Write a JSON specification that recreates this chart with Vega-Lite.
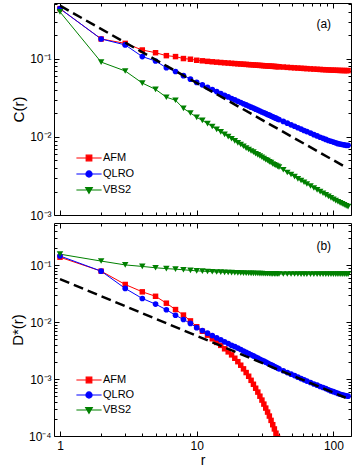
{
"$schema": "https://vega.github.io/schema/vega-lite/v6.json",
"padding": {"left": 9, "top": 2, "right": 2, "bottom": 2},
"bounds": "flush",
"config": {
  "font": "Liberation Sans",
  "view": {"stroke": "black", "strokeWidth": 1},
  "axis": {"domain": false, "grid": false, "tickColor": "black", "tickWidth": 1, "labelColor": "black", "titleColor": "black", "labelFontSize": 12, "titleFontSize": 15, "titleFontWeight": "normal", "labelOverlap": false, "labelFlush": false, "minExtent": 0},
  "legend": {"labelFontSize": 11, "labelColor": "black", "padding": 0}
},
"datasets": {
  "top": [
{"r":1,"s":"AFM","v":0.44},{"r":2,"s":"AFM","v":0.18},{"r":3,"s":"AFM","v":0.158},{"r":4,"s":"AFM","v":0.130},{"r":5,"s":"AFM","v":0.120},{"r":6,"s":"AFM","v":0.110},{"r":7,"s":"AFM","v":0.107},{"r":8,"s":"AFM","v":0.101},{"r":9,"s":"AFM","v":0.099},{"r":10,"s":"AFM","v":0.096},
{"r":11,"s":"AFM","v":0.0945},{"r":12,"s":"AFM","v":0.093},{"r":13,"s":"AFM","v":0.0918},{"r":14,"s":"AFM","v":0.0908},{"r":15,"s":"AFM","v":0.0899},{"r":16,"s":"AFM","v":0.0891},{"r":17,"s":"AFM","v":0.0884},{"r":18,"s":"AFM","v":0.0877},{"r":19,"s":"AFM","v":0.0871},{"r":20,"s":"AFM","v":0.0865},
{"r":21,"s":"AFM","v":0.086},{"r":22,"s":"AFM","v":0.0855},{"r":23,"s":"AFM","v":0.085},{"r":24,"s":"AFM","v":0.0845},{"r":25,"s":"AFM","v":0.0841},{"r":26,"s":"AFM","v":0.0837},{"r":27,"s":"AFM","v":0.0833},{"r":28,"s":"AFM","v":0.0829},{"r":29,"s":"AFM","v":0.0825},{"r":30,"s":"AFM","v":0.0822},
{"r":31,"s":"AFM","v":0.0818},{"r":32,"s":"AFM","v":0.0815},{"r":33,"s":"AFM","v":0.0812},{"r":34,"s":"AFM","v":0.0809},{"r":35,"s":"AFM","v":0.0806},{"r":36,"s":"AFM","v":0.0803},{"r":37,"s":"AFM","v":0.080},{"r":38,"s":"AFM","v":0.0798},{"r":39,"s":"AFM","v":0.0795},{"r":40,"s":"AFM","v":0.0793},
{"r":43,"s":"AFM","v":0.0786},{"r":46,"s":"AFM","v":0.0779},{"r":49,"s":"AFM","v":0.0773},{"r":52,"s":"AFM","v":0.0768},{"r":55,"s":"AFM","v":0.0763},{"r":58,"s":"AFM","v":0.0758},{"r":61,"s":"AFM","v":0.0754},{"r":64,"s":"AFM","v":0.075},
{"r":68,"s":"AFM","v":0.0745},{"r":72,"s":"AFM","v":0.074},{"r":76,"s":"AFM","v":0.0736},{"r":80,"s":"AFM","v":0.0732},{"r":84,"s":"AFM","v":0.0728},{"r":88,"s":"AFM","v":0.0725},{"r":92,"s":"AFM","v":0.0722},{"r":96,"s":"AFM","v":0.0719},
{"r":100,"s":"AFM","v":0.0717},{"r":104,"s":"AFM","v":0.0715},{"r":108,"s":"AFM","v":0.0713},{"r":112,"s":"AFM","v":0.0711},{"r":116,"s":"AFM","v":0.071},{"r":120,"s":"AFM","v":0.0709},{"r":124,"s":"AFM","v":0.0708},{"r":128,"s":"AFM","v":0.0708},
{"r":1,"s":"QLRO","v":0.44},{"r":2,"s":"QLRO","v":0.18},{"r":3,"s":"QLRO","v":0.151},{"r":4,"s":"QLRO","v":0.107},{"r":5,"s":"QLRO","v":0.094},{"r":6,"s":"QLRO","v":0.077},{"r":7,"s":"QLRO","v":0.069},{"r":8,"s":"QLRO","v":0.061},{"r":9,"s":"QLRO","v":0.055},{"r":10,"s":"QLRO","v":0.050},
{"r":11,"s":"QLRO","v":0.0465},{"r":12,"s":"QLRO","v":0.0432},{"r":13,"s":"QLRO","v":0.0405},{"r":14,"s":"QLRO","v":0.0381},{"r":15,"s":"QLRO","v":0.036},{"r":16,"s":"QLRO","v":0.0342},{"r":17,"s":"QLRO","v":0.0326},{"r":18,"s":"QLRO","v":0.0311},{"r":19,"s":"QLRO","v":0.0298},{"r":20,"s":"QLRO","v":0.0287},
{"r":21,"s":"QLRO","v":0.0276},{"r":22,"s":"QLRO","v":0.0266},{"r":23,"s":"QLRO","v":0.0257},{"r":24,"s":"QLRO","v":0.0249},{"r":25,"s":"QLRO","v":0.0241},{"r":26,"s":"QLRO","v":0.0234},{"r":27,"s":"QLRO","v":0.0227},{"r":28,"s":"QLRO","v":0.0221},{"r":29,"s":"QLRO","v":0.0215},{"r":30,"s":"QLRO","v":0.0209},
{"r":31,"s":"QLRO","v":0.0204},{"r":32,"s":"QLRO","v":0.0199},{"r":33,"s":"QLRO","v":0.0194},{"r":34,"s":"QLRO","v":0.019},{"r":35,"s":"QLRO","v":0.0185},{"r":36,"s":"QLRO","v":0.0181},{"r":37,"s":"QLRO","v":0.0177},{"r":38,"s":"QLRO","v":0.0174},{"r":39,"s":"QLRO","v":0.017},{"r":40,"s":"QLRO","v":0.0167},
{"r":43,"s":"QLRO","v":0.0158},{"r":46,"s":"QLRO","v":0.015},{"r":49,"s":"QLRO","v":0.0143},{"r":52,"s":"QLRO","v":0.0137},{"r":55,"s":"QLRO","v":0.0131},{"r":58,"s":"QLRO","v":0.0126},{"r":61,"s":"QLRO","v":0.0121},{"r":64,"s":"QLRO","v":0.0117},
{"r":68,"s":"QLRO","v":0.0112},{"r":72,"s":"QLRO","v":0.0107},{"r":76,"s":"QLRO","v":0.0103},{"r":80,"s":"QLRO","v":0.0099},{"r":84,"s":"QLRO","v":0.0096},{"r":88,"s":"QLRO","v":0.0093},{"r":92,"s":"QLRO","v":0.009},{"r":96,"s":"QLRO","v":0.0088},
{"r":100,"s":"QLRO","v":0.0086},{"r":104,"s":"QLRO","v":0.0084},{"r":108,"s":"QLRO","v":0.0082},{"r":112,"s":"QLRO","v":0.0081},{"r":116,"s":"QLRO","v":0.008},{"r":120,"s":"QLRO","v":0.0079},{"r":124,"s":"QLRO","v":0.0078},{"r":128,"s":"QLRO","v":0.0078},
{"r":1,"s":"VBS2","v":0.40},{"r":2,"s":"VBS2","v":0.091},{"r":3,"s":"VBS2","v":0.070},{"r":4,"s":"VBS2","v":0.049},{"r":5,"s":"VBS2","v":0.0407},{"r":6,"s":"VBS2","v":0.0323},{"r":7,"s":"VBS2","v":0.0295},{"r":8,"s":"VBS2","v":0.0232},{"r":9,"s":"VBS2","v":0.0203},{"r":10,"s":"VBS2","v":0.0178},
{"r":11,"s":"VBS2","v":0.0163},{"r":12,"s":"VBS2","v":0.0148},{"r":13,"s":"VBS2","v":0.0136},{"r":14,"s":"VBS2","v":0.0125},{"r":15,"s":"VBS2","v":0.0116},{"r":16,"s":"VBS2","v":0.0108},{"r":17,"s":"VBS2","v":0.0101},{"r":18,"s":"VBS2","v":0.0095},{"r":19,"s":"VBS2","v":0.0089},{"r":20,"s":"VBS2","v":0.0084},
{"r":21,"s":"VBS2","v":0.008},{"r":22,"s":"VBS2","v":0.0076},{"r":23,"s":"VBS2","v":0.0072},{"r":24,"s":"VBS2","v":0.0069},{"r":25,"s":"VBS2","v":0.0066},{"r":26,"s":"VBS2","v":0.0064},{"r":27,"s":"VBS2","v":0.0061},{"r":28,"s":"VBS2","v":0.0059},{"r":29,"s":"VBS2","v":0.0057},{"r":30,"s":"VBS2","v":0.0055},
{"r":31,"s":"VBS2","v":0.0053},{"r":32,"s":"VBS2","v":0.0051},{"r":33,"s":"VBS2","v":0.005},{"r":34,"s":"VBS2","v":0.0048},{"r":35,"s":"VBS2","v":0.0047},{"r":36,"s":"VBS2","v":0.0045},{"r":37,"s":"VBS2","v":0.0044},{"r":38,"s":"VBS2","v":0.0043},{"r":39,"s":"VBS2","v":0.0042},{"r":40,"s":"VBS2","v":0.0041},
{"r":43,"s":"VBS2","v":0.0038},{"r":46,"s":"VBS2","v":0.0035},{"r":49,"s":"VBS2","v":0.0033},{"r":52,"s":"VBS2","v":0.0031},{"r":55,"s":"VBS2","v":0.0029},{"r":58,"s":"VBS2","v":0.00277},{"r":61,"s":"VBS2","v":0.00263},{"r":64,"s":"VBS2","v":0.0025},
{"r":68,"s":"VBS2","v":0.00235},{"r":72,"s":"VBS2","v":0.00222},{"r":76,"s":"VBS2","v":0.0021},{"r":80,"s":"VBS2","v":0.00199},{"r":84,"s":"VBS2","v":0.0019},{"r":88,"s":"VBS2","v":0.00181},{"r":92,"s":"VBS2","v":0.00173},{"r":96,"s":"VBS2","v":0.00166},
{"r":100,"s":"VBS2","v":0.00159},{"r":104,"s":"VBS2","v":0.00153},{"r":108,"s":"VBS2","v":0.00148},{"r":112,"s":"VBS2","v":0.00143},{"r":116,"s":"VBS2","v":0.00139},{"r":120,"s":"VBS2","v":0.00135},{"r":124,"s":"VBS2","v":0.00131},{"r":128,"s":"VBS2","v":0.00128}
  ],
  "bot": [
{"r":1,"s":"AFM","v":0.138},{"r":2,"s":"AFM","v":0.0785},{"r":3,"s":"AFM","v":0.0458},{"r":4,"s":"AFM","v":0.034},{"r":5,"s":"AFM","v":0.0284},{"r":6,"s":"AFM","v":0.0215},{"r":7,"s":"AFM","v":0.0166},{"r":8,"s":"AFM","v":0.0133},{"r":9,"s":"AFM","v":0.0105},{"r":10,"s":"AFM","v":0.0083},
{"r":11,"s":"AFM","v":0.0069},{"r":12,"s":"AFM","v":0.0059},{"r":13,"s":"AFM","v":0.0051},{"r":14,"s":"AFM","v":0.0044},{"r":15,"s":"AFM","v":0.0039},{"r":16,"s":"AFM","v":0.0034},{"r":17,"s":"AFM","v":0.003},{"r":18,"s":"AFM","v":0.00266},{"r":19,"s":"AFM","v":0.00232},{"r":20,"s":"AFM","v":0.00202},
{"r":21,"s":"AFM","v":0.00175},{"r":22,"s":"AFM","v":0.00151},{"r":23,"s":"AFM","v":0.0013},{"r":24,"s":"AFM","v":0.00112},{"r":25,"s":"AFM","v":0.00095},{"r":26,"s":"AFM","v":0.00081},{"r":27,"s":"AFM","v":0.00069},{"r":28,"s":"AFM","v":0.00059},{"r":29,"s":"AFM","v":0.0005},{"r":30,"s":"AFM","v":0.000427},
{"r":31,"s":"AFM","v":0.000363},{"r":32,"s":"AFM","v":0.000309},{"r":33,"s":"AFM","v":0.000263},{"r":34,"s":"AFM","v":0.000224},{"r":35,"s":"AFM","v":0.000188},{"r":36,"s":"AFM","v":0.000158},{"r":37,"s":"AFM","v":0.000133},{"r":38,"s":"AFM","v":0.000112},{"r":39,"s":"AFM","v":0.0000944},{"r":40,"s":"AFM","v":0.0000794},
{"r":41,"s":"AFM","v":0.0000661},{"r":42,"s":"AFM","v":0.000055},
{"r":1,"s":"QLRO","v":0.145},{"r":2,"s":"QLRO","v":0.0785},{"r":3,"s":"QLRO","v":0.039},{"r":4,"s":"QLRO","v":0.026},{"r":5,"s":"QLRO","v":0.0207},{"r":6,"s":"QLRO","v":0.0165},{"r":7,"s":"QLRO","v":0.0132},{"r":8,"s":"QLRO","v":0.0111},{"r":9,"s":"QLRO","v":0.0095},{"r":10,"s":"QLRO","v":0.008},
{"r":11,"s":"QLRO","v":0.0071},{"r":12,"s":"QLRO","v":0.0064},{"r":13,"s":"QLRO","v":0.0058},{"r":14,"s":"QLRO","v":0.0053},{"r":15,"s":"QLRO","v":0.0049},{"r":16,"s":"QLRO","v":0.0045},{"r":17,"s":"QLRO","v":0.0042},{"r":18,"s":"QLRO","v":0.0039},{"r":19,"s":"QLRO","v":0.0037},{"r":20,"s":"QLRO","v":0.0035},
{"r":21,"s":"QLRO","v":0.0033},{"r":22,"s":"QLRO","v":0.0031},{"r":23,"s":"QLRO","v":0.00295},{"r":24,"s":"QLRO","v":0.0028},{"r":25,"s":"QLRO","v":0.00267},{"r":26,"s":"QLRO","v":0.00255},{"r":27,"s":"QLRO","v":0.00244},{"r":28,"s":"QLRO","v":0.00233},{"r":29,"s":"QLRO","v":0.00223},{"r":30,"s":"QLRO","v":0.00214},
{"r":31,"s":"QLRO","v":0.00206},{"r":32,"s":"QLRO","v":0.00198},{"r":33,"s":"QLRO","v":0.00191},{"r":34,"s":"QLRO","v":0.00184},{"r":35,"s":"QLRO","v":0.00178},{"r":36,"s":"QLRO","v":0.00172},{"r":37,"s":"QLRO","v":0.00166},{"r":38,"s":"QLRO","v":0.00161},{"r":39,"s":"QLRO","v":0.00156},{"r":40,"s":"QLRO","v":0.00151},
{"r":43,"s":"QLRO","v":0.0014},{"r":46,"s":"QLRO","v":0.0013},{"r":49,"s":"QLRO","v":0.00122},{"r":52,"s":"QLRO","v":0.00115},{"r":55,"s":"QLRO","v":0.00108},{"r":58,"s":"QLRO","v":0.00102},{"r":61,"s":"QLRO","v":0.00097},{"r":64,"s":"QLRO","v":0.00092},
{"r":68,"s":"QLRO","v":0.00087},{"r":72,"s":"QLRO","v":0.00082},{"r":76,"s":"QLRO","v":0.00078},{"r":80,"s":"QLRO","v":0.00074},{"r":84,"s":"QLRO","v":0.00071},{"r":88,"s":"QLRO","v":0.00068},{"r":92,"s":"QLRO","v":0.00065},{"r":96,"s":"QLRO","v":0.00062},
{"r":100,"s":"QLRO","v":0.0006},{"r":104,"s":"QLRO","v":0.00058},{"r":108,"s":"QLRO","v":0.00056},{"r":112,"s":"QLRO","v":0.00054},{"r":116,"s":"QLRO","v":0.00053},{"r":120,"s":"QLRO","v":0.00052},{"r":124,"s":"QLRO","v":0.00051},{"r":128,"s":"QLRO","v":0.0005},
{"r":1,"s":"VBS2","v":0.156},{"r":2,"s":"VBS2","v":0.118},{"r":3,"s":"VBS2","v":0.101},{"r":4,"s":"VBS2","v":0.095},{"r":5,"s":"VBS2","v":0.090},{"r":6,"s":"VBS2","v":0.087},{"r":7,"s":"VBS2","v":0.085},{"r":8,"s":"VBS2","v":0.083},{"r":9,"s":"VBS2","v":0.081},{"r":10,"s":"VBS2","v":0.0795},
{"r":11,"s":"VBS2","v":0.0785},{"r":12,"s":"VBS2","v":0.0775},{"r":13,"s":"VBS2","v":0.0767},{"r":14,"s":"VBS2","v":0.076},{"r":15,"s":"VBS2","v":0.0754},{"r":16,"s":"VBS2","v":0.0748},{"r":17,"s":"VBS2","v":0.0743},{"r":18,"s":"VBS2","v":0.0739},{"r":19,"s":"VBS2","v":0.0735},{"r":20,"s":"VBS2","v":0.0731},
{"r":21,"s":"VBS2","v":0.0728},{"r":22,"s":"VBS2","v":0.0725},{"r":23,"s":"VBS2","v":0.0722},{"r":24,"s":"VBS2","v":0.072},{"r":25,"s":"VBS2","v":0.0718},{"r":26,"s":"VBS2","v":0.0716},{"r":27,"s":"VBS2","v":0.0714},{"r":28,"s":"VBS2","v":0.0712},{"r":29,"s":"VBS2","v":0.071},{"r":30,"s":"VBS2","v":0.0709},
{"r":31,"s":"VBS2","v":0.0708},{"r":32,"s":"VBS2","v":0.0707},{"r":33,"s":"VBS2","v":0.0706},{"r":34,"s":"VBS2","v":0.0705},{"r":35,"s":"VBS2","v":0.0704},{"r":36,"s":"VBS2","v":0.0703},{"r":37,"s":"VBS2","v":0.0702},{"r":38,"s":"VBS2","v":0.0702},{"r":39,"s":"VBS2","v":0.0701},{"r":40,"s":"VBS2","v":0.07},
{"r":43,"s":"VBS2","v":0.07},{"r":46,"s":"VBS2","v":0.0699},{"r":49,"s":"VBS2","v":0.0699},{"r":52,"s":"VBS2","v":0.0698},{"r":55,"s":"VBS2","v":0.0698},{"r":58,"s":"VBS2","v":0.0697},{"r":61,"s":"VBS2","v":0.0697},{"r":64,"s":"VBS2","v":0.0697},
{"r":68,"s":"VBS2","v":0.0696},{"r":72,"s":"VBS2","v":0.0696},{"r":76,"s":"VBS2","v":0.0696},{"r":80,"s":"VBS2","v":0.0695},{"r":84,"s":"VBS2","v":0.0695},{"r":88,"s":"VBS2","v":0.0695},{"r":92,"s":"VBS2","v":0.0695},{"r":96,"s":"VBS2","v":0.0695},
{"r":100,"s":"VBS2","v":0.0695},{"r":104,"s":"VBS2","v":0.0695},{"r":108,"s":"VBS2","v":0.0695},{"r":112,"s":"VBS2","v":0.0695},{"r":116,"s":"VBS2","v":0.0695},{"r":120,"s":"VBS2","v":0.0695},{"r":124,"s":"VBS2","v":0.0695},{"r":128,"s":"VBS2","v":0.0695}
  ],
  "dtop": [{"r":1,"v":0.48},{"r":123,"v":0.0041}],
  "dbot": [{"r":1,"v":0.057},{"r":123,"v":0.00047}],
  "ltop": [{"r":85,"v":0.284,"t":"(a)"}],
  "lbot": [{"r":85,"v":0.218,"t":"(b)"}]
},
"spacing": 8,
"resolve": {
  "scale": {"x": "independent", "y": "independent", "stroke": "independent"},
  "legend": {"stroke": "independent"}
},
"vconcat": [
  {
    "width": 297, "height": 212,
    "resolve": {"axis": {"x": "independent", "y": "independent"}},
    "layer": [
      {
        "data": {"name": "top"},
        "mark": {"type": "line", "strokeWidth": 1, "clip": true},
        "encoding": {
          "x": {"field": "r", "type": "quantitative", "scale": {"type": "log", "domain": [0.904, 134.5]},
                "axis": {"orient": "bottom", "values": [1,2,3,4,5,6,7,8,9,10,20,30,40,50,60,70,80,90,100], "labels": false, "title": null,
                         "tickSize": {"condition": {"test": "abs(log(datum.value)/LN10 - round(log(datum.value)/LN10)) < 0.000001", "value": -5}, "value": -3}}},
          "y": {"field": "v", "type": "quantitative", "scale": {"type": "log", "domain": [0.001, 0.52]},
                "axis": {"orient": "left", "values": [0.001,0.002,0.003,0.004,0.005,0.006,0.007,0.008,0.009,0.01,0.02,0.03,0.04,0.05,0.06,0.07,0.08,0.09,0.1,0.2,0.3,0.4,0.5],
                         "labelExpr": "datum.value === 0.1 ? '10⁻¹' : datum.value === 0.01 ? '10⁻²' : datum.value === 0.001 ? '10⁻³' : ''",
                         "labelFontSize": {"condition": {"test": "abs(log(datum.value)/LN10 - round(log(datum.value)/LN10)) < 0.000001", "value": 12}, "value": 0},
                         "labelPadding": 8, "title": "C(r)", "titlePadding": 3,
                         "tickSize": {"condition": {"test": "abs(log(datum.value)/LN10 - round(log(datum.value)/LN10)) < 0.000001", "value": -5}, "value": -3}}},
          "stroke": {"field": "s", "type": "nominal", "scale": {"domain": ["AFM","QLRO","VBS2"], "range": ["#ff0000","#0000ff","#008000"]},
                     "legend": {"orient": "none", "legendX": 27, "legendY": 147, "title": null, "symbolType": "M-1.8,0H1.8", "symbolSize": 196, "symbolStrokeWidth": 1.2, "labelOffset": 6, "rowPadding": 2,
                                "encoding": {"symbols": {
                                  "shape": {"condition": [{"test": "datum.value === 'AFM'", "value": "M-1.8,0H1.8M-0.4,-0.4H0.4V0.4H-0.4Z"}, {"test": "datum.value === 'QLRO'", "value": "M-1.8,0H1.8M-0.44,0A0.44,0.44,0,1,1,0.44,0A0.44,0.44,0,1,1,-0.44,0Z"}], "value": "M-1.8,0H1.8M-0.47,-0.36H0.47L0,0.47Z"},
                                  "fill": {"condition": [{"test": "datum.value === 'AFM'", "value": "#ff0000"}, {"test": "datum.value === 'QLRO'", "value": "#0000ff"}], "value": "#008000"},
                                  "fillOpacity": {"value": 1}
                                }}}}
        }
      },
      {
        "data": {"name": "top"},
        "transform": [{"filter": "datum.s === 'AFM'"}],
        "mark": {"type": "point", "shape": "square", "filled": true, "color": "#ff0000", "opacity": 1, "size": 30, "clip": true},
        "encoding": {
          "x": {"field": "r", "type": "quantitative", "scale": {"type": "log", "domain": [0.904, 134.5]}, "axis": null},
          "y": {"field": "v", "type": "quantitative", "scale": {"type": "log", "domain": [0.001, 0.52]}, "axis": null}
        }
      },
      {
        "data": {"name": "top"},
        "transform": [{"filter": "datum.s === 'QLRO'"}],
        "mark": {"type": "point", "shape": "circle", "filled": true, "color": "#0000ff", "opacity": 1, "size": 32, "clip": true},
        "encoding": {
          "x": {"field": "r", "type": "quantitative", "scale": {"type": "log", "domain": [0.904, 134.5]}, "axis": null},
          "y": {"field": "v", "type": "quantitative", "scale": {"type": "log", "domain": [0.001, 0.52]}, "axis": null}
        }
      },
      {
        "data": {"name": "top"},
        "transform": [{"filter": "datum.s === 'VBS2'"}],
        "mark": {"type": "point", "shape": "triangle-down", "filled": true, "color": "#008000", "opacity": 1, "size": 42, "clip": true},
        "encoding": {
          "x": {"field": "r", "type": "quantitative", "scale": {"type": "log", "domain": [0.904, 134.5]}, "axis": null},
          "y": {"field": "v", "type": "quantitative", "scale": {"type": "log", "domain": [0.001, 0.52]}, "axis": null}
        }
      },
      {
        "data": {"name": "dtop"},
        "mark": {"type": "line", "color": "black", "strokeWidth": 2.5, "strokeDash": [10, 5], "clip": true},
        "encoding": {
          "x": {"field": "r", "type": "quantitative", "scale": {"type": "log", "domain": [0.904, 134.5]}, "axis": null},
          "y": {"field": "v", "type": "quantitative", "scale": {"type": "log", "domain": [0.001, 0.52]}, "axis": null}
        }
      },
      {
        "data": {"name": "ltop"},
        "mark": {"type": "text", "fontSize": 12, "color": "black"},
        "encoding": {
          "x": {"field": "r", "type": "quantitative", "scale": {"type": "log", "domain": [0.904, 134.5]}, "axis": null},
          "y": {"field": "v", "type": "quantitative", "scale": {"type": "log", "domain": [0.001, 0.52]}, "axis": null},
          "text": {"field": "t"}
        }
      },
      {
        "data": {"name": "dtop"},
        "mark": {"type": "line", "opacity": 0},
        "encoding": {
          "x": {"field": "r", "type": "quantitative", "scale": {"type": "log", "domain": [0.904, 134.5]},
                "axis": {"orient": "top", "values": [1,2,3,4,5,6,7,8,9,10,20,30,40,50,60,70,80,90,100], "labels": false, "title": null,
                         "tickSize": {"condition": {"test": "abs(log(datum.value)/LN10 - round(log(datum.value)/LN10)) < 0.000001", "value": -5}, "value": -3}}},
          "y": {"field": "v", "type": "quantitative", "scale": {"type": "log", "domain": [0.001, 0.52]},
                "axis": {"orient": "right", "values": [0.001,0.002,0.003,0.004,0.005,0.006,0.007,0.008,0.009,0.01,0.02,0.03,0.04,0.05,0.06,0.07,0.08,0.09,0.1,0.2,0.3,0.4,0.5], "labels": false, "title": null,
                         "tickSize": {"condition": {"test": "abs(log(datum.value)/LN10 - round(log(datum.value)/LN10)) < 0.000001", "value": -5}, "value": -3}}}
        }
      }
    ]
  },
  {
    "width": 297, "height": 213,
    "resolve": {"axis": {"x": "independent", "y": "independent"}},
    "layer": [
      {
        "data": {"name": "bot"},
        "mark": {"type": "line", "strokeWidth": 1, "clip": true},
        "encoding": {
          "x": {"field": "r", "type": "quantitative", "scale": {"type": "log", "domain": [0.904, 134.5]},
                "axis": {"orient": "bottom", "values": [1,2,3,4,5,6,7,8,9,10,20,30,40,50,60,70,80,90,100],
                         "labelExpr": "datum.value === 1 ? '1' : datum.value === 10 ? '10' : datum.value === 100 ? '100' : ''",
                         "labelPadding": 9, "title": "r", "titleFontSize": 14, "titlePadding": 0,
                         "tickSize": {"condition": {"test": "abs(log(datum.value)/LN10 - round(log(datum.value)/LN10)) < 0.000001", "value": -5}, "value": -3}}},
          "y": {"field": "v", "type": "quantitative", "scale": {"type": "log", "domain": [0.0001, 0.55]},
                "axis": {"orient": "left", "values": [0.0001,0.0002,0.0003,0.0004,0.0005,0.0006,0.0007,0.0008,0.0009,0.001,0.002,0.003,0.004,0.005,0.006,0.007,0.008,0.009,0.01,0.02,0.03,0.04,0.05,0.06,0.07,0.08,0.09,0.1,0.2,0.3,0.4,0.5],
                         "labelExpr": "datum.value === 0.1 ? '10⁻¹' : datum.value === 0.01 ? '10⁻²' : datum.value === 0.001 ? '10⁻³' : datum.value === 0.0001 ? '10⁻⁴' : ''",
                         "labelFontSize": {"condition": {"test": "abs(log(datum.value)/LN10 - round(log(datum.value)/LN10)) < 0.000001", "value": 12}, "value": 0},
                         "labelPadding": 8, "title": "D*(r)", "titlePadding": 3,
                         "tickSize": {"condition": {"test": "abs(log(datum.value)/LN10 - round(log(datum.value)/LN10)) < 0.000001", "value": -5}, "value": -3}}},
          "stroke": {"field": "s", "type": "nominal", "scale": {"domain": ["AFM","QLRO","VBS2"], "range": ["#ff0000","#0000ff","#008000"]},
                     "legend": {"orient": "none", "legendX": 27, "legendY": 149, "title": null, "symbolType": "M-1.8,0H1.8", "symbolSize": 196, "symbolStrokeWidth": 1.2, "labelOffset": 6, "rowPadding": 1,
                                "encoding": {"symbols": {
                                  "shape": {"condition": [{"test": "datum.value === 'AFM'", "value": "M-1.8,0H1.8M-0.4,-0.4H0.4V0.4H-0.4Z"}, {"test": "datum.value === 'QLRO'", "value": "M-1.8,0H1.8M-0.44,0A0.44,0.44,0,1,1,0.44,0A0.44,0.44,0,1,1,-0.44,0Z"}], "value": "M-1.8,0H1.8M-0.47,-0.36H0.47L0,0.47Z"},
                                  "fill": {"condition": [{"test": "datum.value === 'AFM'", "value": "#ff0000"}, {"test": "datum.value === 'QLRO'", "value": "#0000ff"}], "value": "#008000"},
                                  "fillOpacity": {"value": 1}
                                }}}}
        }
      },
      {
        "data": {"name": "bot"},
        "transform": [{"filter": "datum.s === 'AFM'"}],
        "mark": {"type": "point", "shape": "square", "filled": true, "color": "#ff0000", "opacity": 1, "size": 30, "clip": true},
        "encoding": {
          "x": {"field": "r", "type": "quantitative", "scale": {"type": "log", "domain": [0.904, 134.5]}, "axis": null},
          "y": {"field": "v", "type": "quantitative", "scale": {"type": "log", "domain": [0.0001, 0.55]}, "axis": null}
        }
      },
      {
        "data": {"name": "bot"},
        "transform": [{"filter": "datum.s === 'QLRO'"}],
        "mark": {"type": "point", "shape": "circle", "filled": true, "color": "#0000ff", "opacity": 1, "size": 32, "clip": true},
        "encoding": {
          "x": {"field": "r", "type": "quantitative", "scale": {"type": "log", "domain": [0.904, 134.5]}, "axis": null},
          "y": {"field": "v", "type": "quantitative", "scale": {"type": "log", "domain": [0.0001, 0.55]}, "axis": null}
        }
      },
      {
        "data": {"name": "bot"},
        "transform": [{"filter": "datum.s === 'VBS2'"}],
        "mark": {"type": "point", "shape": "triangle-down", "filled": true, "color": "#008000", "opacity": 1, "size": 42, "clip": true},
        "encoding": {
          "x": {"field": "r", "type": "quantitative", "scale": {"type": "log", "domain": [0.904, 134.5]}, "axis": null},
          "y": {"field": "v", "type": "quantitative", "scale": {"type": "log", "domain": [0.0001, 0.55]}, "axis": null}
        }
      },
      {
        "data": {"name": "dbot"},
        "mark": {"type": "line", "color": "black", "strokeWidth": 2.5, "strokeDash": [10, 5], "clip": true},
        "encoding": {
          "x": {"field": "r", "type": "quantitative", "scale": {"type": "log", "domain": [0.904, 134.5]}, "axis": null},
          "y": {"field": "v", "type": "quantitative", "scale": {"type": "log", "domain": [0.0001, 0.55]}, "axis": null}
        }
      },
      {
        "data": {"name": "lbot"},
        "mark": {"type": "text", "fontSize": 12, "color": "black"},
        "encoding": {
          "x": {"field": "r", "type": "quantitative", "scale": {"type": "log", "domain": [0.904, 134.5]}, "axis": null},
          "y": {"field": "v", "type": "quantitative", "scale": {"type": "log", "domain": [0.0001, 0.55]}, "axis": null},
          "text": {"field": "t"}
        }
      },
      {
        "data": {"name": "dbot"},
        "mark": {"type": "line", "opacity": 0},
        "encoding": {
          "x": {"field": "r", "type": "quantitative", "scale": {"type": "log", "domain": [0.904, 134.5]},
                "axis": {"orient": "top", "values": [1,2,3,4,5,6,7,8,9,10,20,30,40,50,60,70,80,90,100], "labels": false, "title": null,
                         "tickSize": {"condition": {"test": "abs(log(datum.value)/LN10 - round(log(datum.value)/LN10)) < 0.000001", "value": -5}, "value": -3}}},
          "y": {"field": "v", "type": "quantitative", "scale": {"type": "log", "domain": [0.0001, 0.55]},
                "axis": {"orient": "right", "values": [0.0001,0.0002,0.0003,0.0004,0.0005,0.0006,0.0007,0.0008,0.0009,0.001,0.002,0.003,0.004,0.005,0.006,0.007,0.008,0.009,0.01,0.02,0.03,0.04,0.05,0.06,0.07,0.08,0.09,0.1,0.2,0.3,0.4,0.5], "labels": false, "title": null,
                         "tickSize": {"condition": {"test": "abs(log(datum.value)/LN10 - round(log(datum.value)/LN10)) < 0.000001", "value": -5}, "value": -3}}}
        }
      }
    ]
  }
]
}
